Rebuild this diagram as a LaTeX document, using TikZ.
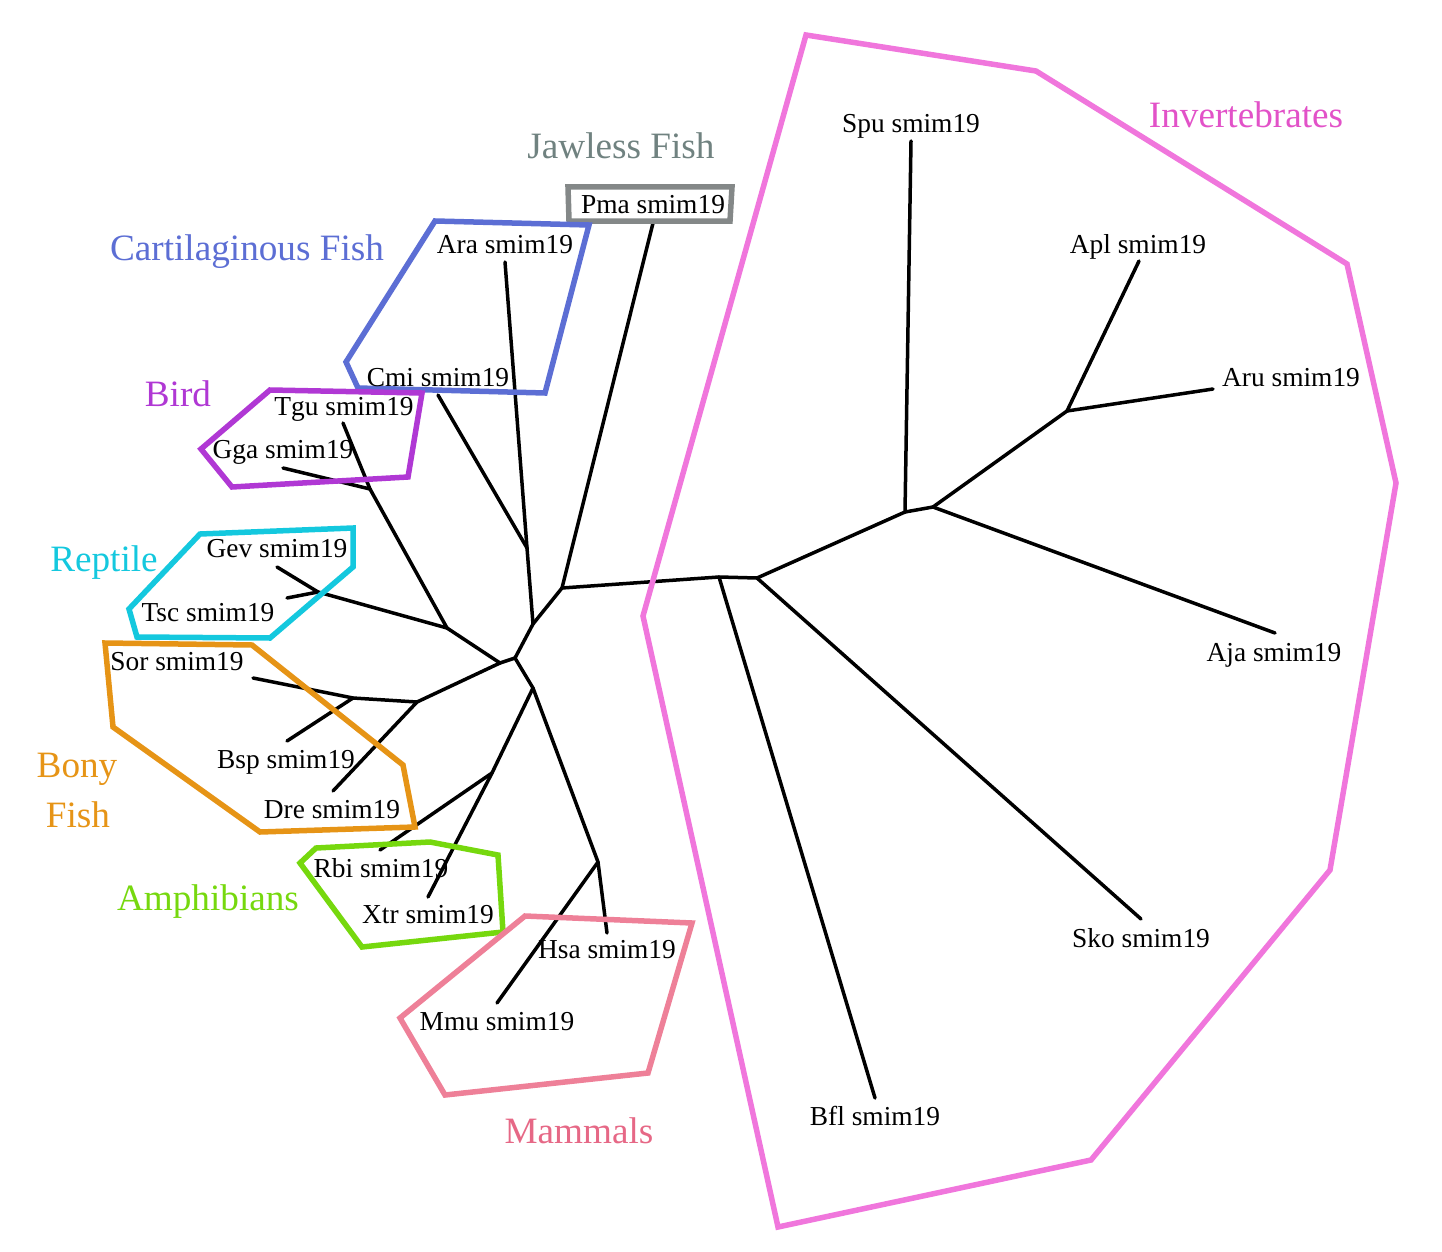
\documentclass[tikz,border=0pt]{standalone}
\usepackage{fontspec}
\setmainfont{Liberation Serif}
\definecolor{cInv}{RGB}{240,118,220}
\definecolor{cInvT}{RGB}{226,82,200}
\definecolor{cJaw}{RGB}{132,136,136}
\definecolor{cJawT}{RGB}{112,130,128}
\definecolor{cCart}{RGB}{92,110,212}
\definecolor{cBird}{RGB}{176,56,212}
\definecolor{cRep}{RGB}{20,200,222}
\definecolor{cBony}{RGB}{230,148,22}
\definecolor{cAmph}{RGB}{118,216,14}
\definecolor{cMam}{RGB}{238,128,152}
\definecolor{cMamT}{RGB}{230,104,134}
\tikzset{
  leaf/.style={font=\fontsize{27.4}{30}\selectfont, anchor=base, inner sep=0pt, text=black},
  grp/.style={font=\fontsize{37.2}{40}\selectfont, anchor=base, inner sep=0pt},
  br/.style={line width=3.5pt, black, line cap=round, line join=round},
  hull/.style={line width=5.5pt, line join=miter},
}
\begin{document}
\begin{tikzpicture}[x=1pt,y=-1pt]
\useasboundingbox (0,0) rectangle (1442,1252);
% internal nodes
\coordinate (A) at (719,577);
\coordinate (B) at (757,578);
\coordinate (C) at (905,512);
\coordinate (D) at (933,507);
\coordinate (E) at (1067,411);
\coordinate (P) at (562,588);
\coordinate (Q) at (533,624);
\coordinate (CF) at (527,548);
\coordinate (R) at (515,658);
\coordinate (S) at (500,663);
\coordinate (RB) at (447,628);
\coordinate (BI) at (370,489);
\coordinate (RE) at (318,592);
\coordinate (BF) at (417,702);
\coordinate (BS) at (353,698);
\coordinate (L) at (533,688);
\coordinate (AM) at (492,773);
\coordinate (MA) at (598,862);
% tips
\coordinate (spuT) at (911,141);
\coordinate (aplT) at (1139,261);
\coordinate (aruT) at (1213,389);
\coordinate (ajaT) at (1275,633);
\coordinate (skoT) at (1141,919);
\coordinate (bflT) at (875,1098);
\coordinate (pmaT) at (653,223);
\coordinate (araT) at (505,262);
\coordinate (cmiT) at (438,395);
\coordinate (tguT) at (343,423);
\coordinate (ggaT) at (283,468);
\coordinate (gevT) at (277,567);
\coordinate (tscT) at (287,598);
\coordinate (sorT) at (253,678);
\coordinate (bspT) at (287,741);
\coordinate (dreT) at (333,791);
\coordinate (rbiT) at (380,850);
\coordinate (xtrT) at (428,897);
\coordinate (hsaT) at (607,933);
\coordinate (mmuT) at (497,1003);
% tree
\draw[br] (P) -- (A);
\draw[br] (A) -- (B);
\draw[br] (A) -- (bflT);
\draw[br] (B) -- (C);
\draw[br] (B) -- (skoT);
\draw[br] (C) -- (spuT);
\draw[br] (C) -- (D);
\draw[br] (D) -- (E);
\draw[br] (D) -- (ajaT);
\draw[br] (E) -- (aplT);
\draw[br] (E) -- (aruT);
\draw[br] (P) -- (pmaT);
\draw[br] (Q) -- (P);
\draw[br] (Q) -- (CF);
\draw[br] (CF) -- (araT);
\draw[br] (CF) -- (cmiT);
\draw[br] (Q) -- (R);
\draw[br] (R) -- (S);
\draw[br] (S) -- (RB);
\draw[br] (S) -- (BF);
\draw[br] (RB) -- (BI);
\draw[br] (RB) -- (RE);
\draw[br] (BI) -- (tguT);
\draw[br] (BI) -- (ggaT);
\draw[br] (RE) -- (gevT);
\draw[br] (RE) -- (tscT);
\draw[br] (BF) -- (BS);
\draw[br] (BF) -- (dreT);
\draw[br] (BS) -- (sorT);
\draw[br] (BS) -- (bspT);
\draw[br] (R) -- (L);
\draw[br] (L) -- (AM);
\draw[br] (L) -- (MA);
\draw[br] (AM) -- (rbiT);
\draw[br] (AM) -- (xtrT);
\draw[br] (MA) -- (hsaT);
\draw[br] (MA) -- (mmuT);
% hulls
\draw[hull, cInv] (806,35) -- (1036,71) -- (1347,264) -- (1396,483) -- (1330,870) -- (1091,1160) -- (778,1227) -- (643,616) -- cycle;
\draw[hull, cJaw] (568,187) -- (732,187) -- (730,221) -- (569,221) -- cycle;
\draw[hull, cCart] (435,221) -- (589,225) -- (545,393) -- (358,388) -- (346,362) -- cycle;
\draw[hull, cBird] (270,390) -- (422,393) -- (408,477) -- (232,487) -- (201,449) -- cycle;
\draw[hull, cRep] (200,534) -- (353,528) -- (353,567) -- (270,638) -- (137,637) -- (129,609) -- cycle;
\draw[hull, cBony] (105,643) -- (252,645) -- (403,765) -- (415,827) -- (260,832) -- (113,727) -- cycle;
\draw[hull, cAmph] (316,848) -- (430,842) -- (498,855) -- (503,932) -- (362,947) -- (300,863) -- cycle;
\draw[hull, cMam] (525,916) -- (692,923) -- (648,1073) -- (445,1095) -- (400,1018) -- cycle;
% leaf labels
\node[leaf] (spu) at (911,133) {Spu smim19};
\node[leaf] (apl) at (1138,253) {Apl smim19};
\node[leaf] (aru) at (1291,386) {Aru smim19};
\node[leaf] (aja) at (1274,661) {Aja smim19};
\node[leaf] (sko) at (1141,947) {Sko smim19};
\node[leaf] (bfl) at (875,1125) {Bfl smim19};
\node[leaf] (pma) at (653,213) {Pma smim19};
\node[leaf] (ara) at (505,253) {Ara smim19};
\node[leaf] (cmi) at (438,386) {Cmi smim19};
\node[leaf] (tgu) at (344,415) {Tgu smim19};
\node[leaf] (gga) at (283,458) {Gga smim19};
\node[leaf] (gev) at (277,557) {Gev smim19};
\node[leaf] (tsc) at (208,621) {Tsc smim19};
\node[leaf] (sor) at (177,670) {Sor smim19};
\node[leaf] (bsp) at (286,768) {Bsp smim19};
\node[leaf] (dre) at (332,818) {Dre smim19};
\node[leaf] (rbi) at (381,877) {Rbi smim19};
\node[leaf] (xtr) at (428,923) {Xtr smim19};
\node[leaf] (hsa) at (607,958) {Hsa smim19};
\node[leaf] (mmu) at (497,1030) {Mmu smim19};
% group labels
\node[grp, text=cInvT] (gInv) at (1246,128) {Invertebrates};
\node[grp, text=cJawT] (gJaw) at (621,159) {Jawless Fish};
\node[grp, text=cCart] (gCart) at (247,260) {Cartilaginous Fish};
\node[grp, text=cBird] (gBird) at (178,406) {Bird};
\node[grp, text=cRep] (gRep) at (104,571) {Reptile};
\node[grp, text=cBony] (gBony1) at (77,777) {Bony};
\node[grp, text=cBony] (gBony2) at (78,827) {Fish};
\node[grp, text=cAmph] (gAmph) at (208,910) {Amphibians};
\node[grp, text=cMamT] (gMam) at (579,1143) {Mammals};
\end{tikzpicture}
\end{document}
